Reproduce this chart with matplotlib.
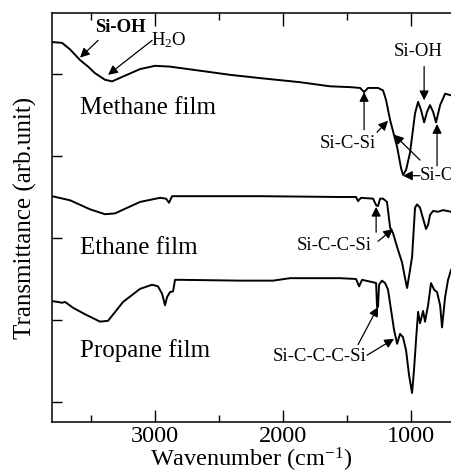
import numpy as np
import matplotlib
matplotlib.use('Agg')
import matplotlib.pyplot as plt

plt.rcParams['font.family'] = ['Liberation Serif', 'DejaVu Serif']
plt.rcParams['mathtext.fontset'] = 'custom'
plt.rcParams['mathtext.rm'] = 'Liberation Serif'
plt.rcParams['mathtext.it'] = 'Liberation Serif:italic'

# spectra (wavenumber, transmittance arb. unit, offset already included)
methane_wn = [3805, 3727, 3664, 3586, 3523, 3469, 3391, 3336, 3234, 3117, 3000, 2883, 2648, 2414, 2180,
              1867, 1633, 1477, 1398, 1367, 1336, 1258, 1219, 1195, 1164, 1109, 1078, 1063, 1039, 1008,
              969, 945, 922, 898, 875, 852, 828, 805, 773, 734, 688]
methane_t = [5.39, 5.38, 5.30, 5.17, 5.09, 5.01, 4.93, 4.91, 4.98, 5.06, 5.10, 5.09, 5.04, 4.99, 4.95,
             4.90, 4.85, 4.84, 4.83, 4.78, 4.83, 4.83, 4.80, 4.68, 4.44, 4.11, 3.85, 3.77, 3.83, 4.04,
             4.52, 4.66, 4.56, 4.41, 4.54, 4.62, 4.54, 4.41, 4.62, 4.76, 4.74]

ethane_wn = [3805, 3664, 3508, 3391, 3313, 3117, 2961, 2914, 2891, 2867, 2648, 2180, 1555, 1430, 1414,
             1391, 1297, 1273, 1258, 1242, 1219, 1188, 1164, 1141, 1109, 1070, 1047, 1031, 1008, 992,
             969, 953, 930, 914, 883, 867, 852, 828, 789, 750, 688]
ethane_t = [3.51, 3.46, 3.35, 3.29, 3.30, 3.44, 3.49, 3.48, 3.43, 3.51, 3.51, 3.51, 3.50, 3.50, 3.45,
            3.49, 3.48, 3.40, 3.39, 3.48, 3.48, 3.44, 3.13, 3.06, 2.89, 2.70, 2.51, 2.39, 2.61, 2.77,
            3.37, 3.41, 3.37, 3.28, 3.11, 3.16, 3.28, 3.33, 3.32, 3.34, 3.32]

propane_wn = [3805, 3758, 3727, 3703, 3641, 3547, 3430, 3367, 3250, 3117, 3023, 2977, 2945, 2922, 2906,
              2883, 2859, 2844, 2805, 2336, 2078, 1945, 1555, 1430, 1406, 1383, 1297, 1273, 1266, 1258,
              1250, 1227, 1203, 1180, 1156, 1133, 1109, 1086, 1063, 1039, 1016, 992, 977, 961, 945,
              930, 906, 891, 867, 844, 820, 797, 773, 758, 734, 711, 688]
propane_t = [2.23, 2.22, 2.21, 2.22, 2.15, 2.07, 1.98, 1.99, 2.22, 2.38, 2.43, 2.41, 2.32, 2.18, 2.28,
             2.34, 2.35, 2.49, 2.49, 2.48, 2.48, 2.51, 2.51, 2.50, 2.41, 2.49, 2.46, 2.45, 2.16, 2.16,
             2.43, 2.48, 2.45, 2.37, 2.12, 1.88, 1.71, 1.83, 1.79, 1.63, 1.33, 1.11, 1.39, 1.76, 2.10,
             1.96, 2.11, 1.98, 2.18, 2.45, 2.37, 2.34, 2.18, 1.91, 2.28, 2.49, 2.61]

fig = plt.figure(figsize=(4.51, 4.74), dpi=100)
ax = fig.add_axes([52/451, 52/474, 1 - 52/451, 409/474])

for wn, t in [(methane_wn, methane_t), (ethane_wn, ethane_t), (propane_wn, propane_t)]:
    ax.plot(wn, t, color='black', lw=1.4)

ax.set_xlim(3805, 688)
ax.set_ylim(0.756, 5.744)
ax.set_xticks([3000, 2000, 1000])
ax.set_xticks([3500, 2500, 1500], minor=True)
ax.set_yticks([1, 2, 3, 4, 5])
ax.set_yticklabels([])
ax.tick_params(which='both', direction='in', top=True, right=False, labelsize=17.5, width=1.0)
ax.tick_params(which='major', length=9, pad=3)
ax.tick_params(which='minor', length=5)
ax.tick_params(axis='y', length=7)
ax.spines['right'].set_visible(False)
for s in ['left', 'bottom', 'top']:
    ax.spines[s].set_linewidth(1.1)

ax.set_xlabel('Wavenumber (cm$^{-1}$)', fontsize=17.5, labelpad=-1)
ax.set_ylabel('Transmittance (arb.unit)', fontsize=18, labelpad=8)

# film names
ax.text(3586, 4.59, 'Methane film', fontsize=18, va='center', ha='left')
ax.text(3586, 2.88, 'Ethane film', fontsize=18, va='center', ha='left')
ax.text(3586, 1.63, 'Propane film', fontsize=18, va='center', ha='left')

ap = dict(arrowstyle='-|>', color='black', lw=0.9, mutation_scale=14, shrinkA=0, shrinkB=0)
fs = 13.5

ax.text(3273, 5.57, 'Si-OH', fontsize=fs, fontweight='bold', ha='center', va='center')
ax.annotate('', xy=(3586, 5.20), xytext=(3445, 5.41), arrowprops=ap)
ax.text(3030, 5.41, 'H$_2$O', fontsize=fs, ha='left', va='center')
ax.annotate('', xy=(3367, 4.99), xytext=(3023, 5.41), arrowprops=ap)

ax.text(945, 5.27, 'Si-OH', fontsize=fs, ha='center', va='center')
ax.annotate('', xy=(898, 4.68), xytext=(898, 5.09), arrowprops=ap)

ax.text(1492, 4.15, 'Si-C-Si', fontsize=fs, ha='center', va='center')
ax.annotate('', xy=(1367, 4.78), xytext=(1367, 4.32), arrowprops=ap)
ax.annotate('', xy=(1180, 4.43), xytext=(1266, 4.29), arrowprops=ap)

# label runs off the right edge, as in the original figure
ax.text(930, 3.76, 'Si-O-Si', fontsize=fs, ha='left', va='center', clip_on=False)
ax.annotate('', xy=(1063, 3.76), xytext=(930, 3.76), arrowprops=ap)
ax.annotate('', xy=(1133, 4.26), xytext=(930, 3.95), arrowprops=ap)
ax.annotate('', xy=(797, 4.39), xytext=(797, 3.88), arrowprops=ap)

ax.text(1602, 2.91, 'Si-C-C-Si', fontsize=fs, ha='center', va='center')
ax.annotate('', xy=(1273, 3.38), xytext=(1273, 3.07), arrowprops=ap)
ax.annotate('', xy=(1141, 3.11), xytext=(1258, 2.96), arrowprops=ap)

ax.text(1711, 1.56, 'Si-C-C-C-Si', fontsize=fs, ha='center', va='center')
ax.annotate('', xy=(1258, 2.16), xytext=(1414, 1.70), arrowprops=ap)
ax.annotate('', xy=(1133, 1.77), xytext=(1344, 1.57), arrowprops=ap)

fig.savefig('out.png', dpi=100)
